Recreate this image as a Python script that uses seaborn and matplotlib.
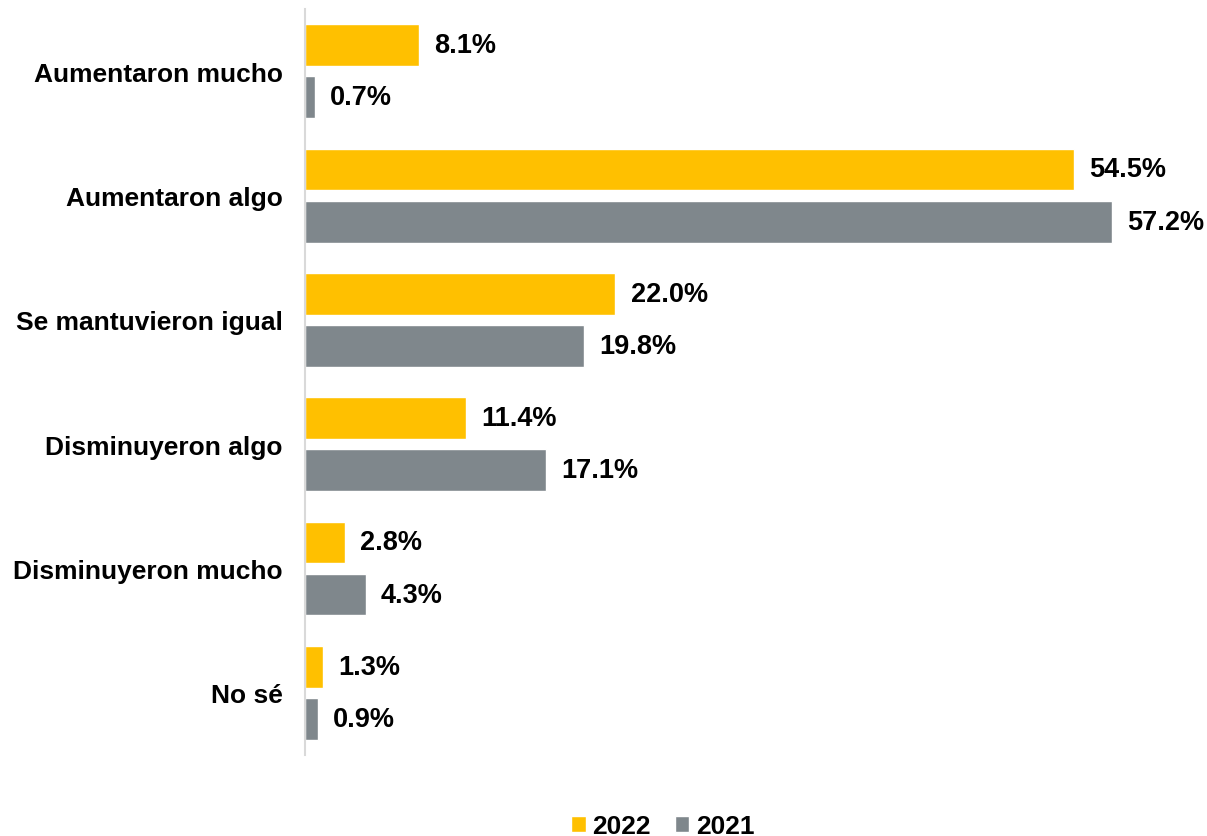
import pandas as pd
import matplotlib.pyplot as plt
import seaborn as sns

categorias = ["Aumentaron mucho", "Aumentaron algo", "Se mantuvieron igual",
              "Disminuyeron algo", "Disminuyeron mucho", "No sé"]
valores_2022 = [8.1, 54.5, 22.0, 11.4, 2.8, 1.3]
valores_2021 = [0.7, 57.2, 19.8, 17.1, 4.3, 0.9]
anios = ["2022", "2021"]
colores = ["#FFC000", "#7F878C"]

df = pd.DataFrame({
    "categoria": categorias * 2,
    "valor": valores_2022 + valores_2021,
    "anio": [anios[0]] * len(categorias) + [anios[1]] * len(categorias),
})

sns.set_theme(style="white")
plt.rcParams["font.family"] = ["Liberation Sans", "DejaVu Sans"]

fig = plt.figure(figsize=(12.07, 8.37), dpi=100)
ax = fig.add_axes([0.2527, 0.0968, 0.7015, 0.8912])

sns.barplot(data=df, y="categoria", x="valor", hue="anio", order=categorias,
            hue_order=anios, palette=colores, orient="h", width=0.84, gap=0.2,
            saturation=1, ax=ax)

for cont in ax.containers:
    ax.bar_label(cont, labels=[f"{v:.1f}%" for v in cont.datavalues],
                 padding=11, fontsize=19.5, fontweight="bold", color="black")

ax.set_xlim(0, 60)
ax.set_ylim(5.5, -0.5)
ax.set_xlabel("")
ax.set_ylabel("")
ax.set_xticks([])
ax.tick_params(axis="y", length=0, pad=16)
for lbl in ax.get_yticklabels():
    lbl.set_fontsize(19)
    lbl.set_fontweight("bold")
    lbl.set_color("black")

for s in ["top", "right", "bottom"]:
    ax.spines[s].set_visible(False)
ax.spines["left"].set_color("#D9D9D9")
ax.spines["left"].set_linewidth(1.5)

leg = ax.legend(loc="center", bbox_to_anchor=(0.549, 0.012), bbox_transform=fig.transFigure,
                ncol=2, frameon=False, handlelength=0.55, handleheight=0.55,
                handletextpad=0.25, columnspacing=0.9, borderpad=0.1,
                prop={"size": 19, "weight": "bold"})
for t in leg.get_texts():
    t.set_color("black")

fig.savefig("out.png", dpi=100)
